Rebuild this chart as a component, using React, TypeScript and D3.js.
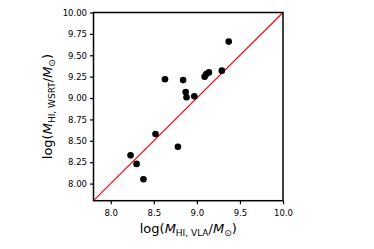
import React, { useRef, useEffect } from 'react';
import * as d3 from 'd3';

const vlaMass = [9.37, 9.29, 9.14, 9.11, 9.09, 8.63, 8.84, 8.87, 8.88, 8.97, 8.52, 8.78, 8.23, 8.30, 8.38];
const wsrtMass = [9.66, 9.32, 9.30, 9.28, 9.25, 9.22, 9.21, 9.07, 9.01, 9.02, 8.58, 8.43, 8.33, 8.23, 8.05];
const wsrtErr = [0.03, 0.03, 0.03, 0.03, 0.03, 0.03, 0.03, 0.03, 0.03, 0.03, 0.03, 0.03, 0.03, 0.03, 0.03];
const xTicks = [8.0, 8.5, 9.0, 9.5, 10.0];
const yTicks = [8.0, 8.25, 8.5, 8.75, 9.0, 9.25, 9.5, 9.75, 10.0];

const width = 374;
const height = 249;

const App = () => {
  const ref = useRef<SVGSVGElement>(null);

  useEffect(() => {
    const svg = d3.select(ref.current);
    svg.selectAll('*').remove();

    const left = 93.5, right = 283, top = 12.5, bottom = 200.7;
    const x = d3.scaleLinear().domain([7.8, 10]).range([left, right]);
    const y = d3.scaleLinear().domain([7.8, 10]).range([bottom, top]);
    const font = 'DejaVu Sans, sans-serif';

    const xAxis = svg.append('g')
      .attr('transform', `translate(0,${bottom})`)
      .call(d3.axisBottom(x).tickValues(xTicks).tickFormat(d3.format('.1f')).tickSize(3.5).tickSizeOuter(0));
    const yAxis = svg.append('g')
      .attr('transform', `translate(${left},0)`)
      .call(d3.axisLeft(y).tickValues(yTicks).tickFormat(d3.format('.2f')).tickSize(3.5).tickSizeOuter(0));

    [xAxis, yAxis].forEach(a => {
      a.select('.domain').remove();
      a.selectAll('line').attr('stroke', '#000').attr('stroke-width', 1.2);
      a.selectAll('text').attr('font-family', font).attr('font-size', 8.5).attr('fill', '#000');
    });
    xAxis.selectAll('text').attr('dy', '1.05em');

    // one-to-one line
    svg.append('line')
      .attr('x1', x(7.8)).attr('y1', y(7.8))
      .attr('x2', x(10)).attr('y2', y(10))
      .attr('stroke', 'red').attr('stroke-width', 1.1);

    const pts = vlaMass.map((v, i) => ({ xv: v, yv: wsrtMass[i], e: wsrtErr[i] }));

    svg.append('g').selectAll('line').data(pts).join('line')
      .attr('x1', d => x(d.xv)).attr('x2', d => x(d.xv))
      .attr('y1', d => y(d.yv - d.e)).attr('y2', d => y(d.yv + d.e))
      .attr('stroke', '#000').attr('stroke-width', 1.5);

    svg.append('g').selectAll('circle').data(pts).join('circle')
      .attr('cx', d => x(d.xv)).attr('cy', d => y(d.yv))
      .attr('r', 3.3).attr('fill', '#000');

    svg.append('rect')
      .attr('x', left).attr('y', top)
      .attr('width', right - left).attr('height', bottom - top)
      .attr('fill', 'none').attr('stroke', '#000').attr('stroke-width', 1.5);

    const xl = svg.append('text')
      .attr('x', (left + right) / 2).attr('y', 233)
      .attr('text-anchor', 'middle')
      .attr('font-family', font).attr('font-size', 13);
    xl.append('tspan').text('log(');
    xl.append('tspan').attr('font-style', 'italic').text('M');
    xl.append('tspan').attr('font-size', 9).attr('dy', 3).text('HI, VLA');
    xl.append('tspan').attr('dy', -3).text('/');
    xl.append('tspan').attr('font-style', 'italic').text('M');
    xl.append('tspan').attr('font-size', 9).attr('dy', 3).text('\u2299');
    xl.append('tspan').attr('dy', -3).text(')');

    const yl = svg.append('text')
      .attr('transform', `translate(52,${(top + bottom) / 2}) rotate(-90)`)
      .attr('text-anchor', 'middle')
      .attr('font-family', font).attr('font-size', 13);
    yl.append('tspan').text('log(');
    yl.append('tspan').attr('font-style', 'italic').text('M');
    yl.append('tspan').attr('font-size', 9).attr('dy', 3).text('HI, WSRT');
    yl.append('tspan').attr('dy', -3).text('/');
    yl.append('tspan').attr('font-style', 'italic').text('M');
    yl.append('tspan').attr('font-size', 9).attr('dy', 3).text('\u2299');
    yl.append('tspan').attr('dy', -3).text(')');
  }, []);

  return <svg ref={ref} width={width} height={height} style={{ display: 'block', margin: '-8px' }}></svg>;
};

export default App;
